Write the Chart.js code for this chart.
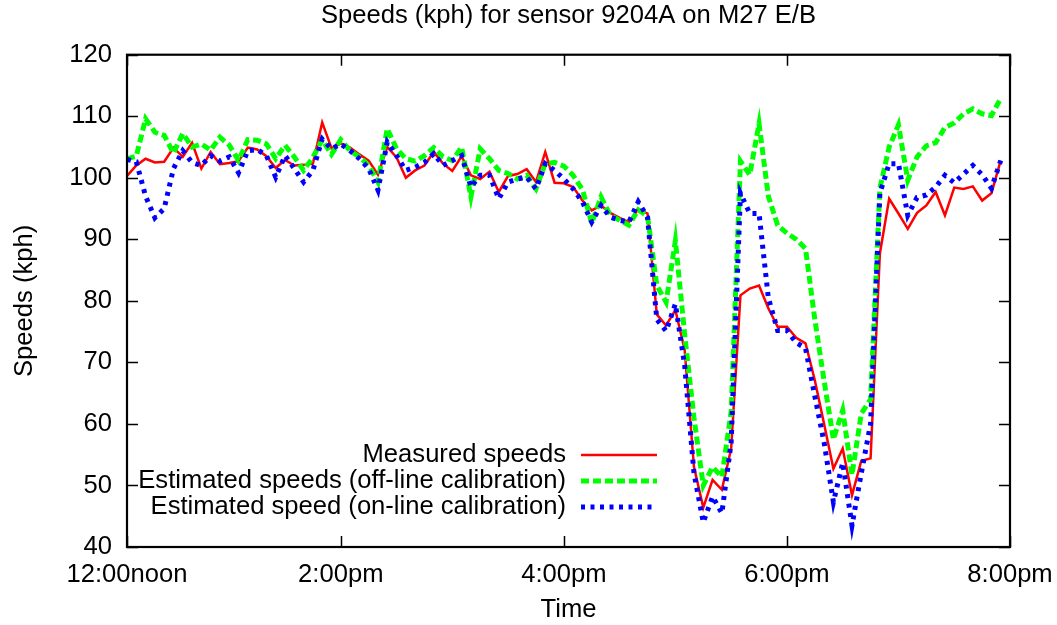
<!DOCTYPE html>
<html>
<head>
<meta charset="utf-8">
<script src="https://cdn.jsdelivr.net/npm/chart.js@4.4.0/dist/chart.umd.min.js"></script>
<style>
html,body{margin:0;padding:0;background:#fff;}
#wrap{width:1057px;height:625px;}
</style>
</head>
<body>
<div id="wrap"><canvas id="c" width="1057" height="625"></canvas></div>
<script>
// ---- data (5-minute samples, sample number 1..95) ----
const chartTitle = 'Speeds (kph) for sensor 9204A on M27 E/B';
const xTitle = 'Time';
const yTitle = 'Speeds (kph)';
const tickSamples = [1, 24, 48, 72, 96];
const tickLabels = ['12:00noon', '2:00pm', '4:00pm', '6:00pm', '8:00pm'];
const seriesNames = ['Measured speeds', 'Estimated speeds (off-line calibration)', 'Estimated speed (on-line calibration)'];

const measured = [
 100.3,102.0,103.1,102.5,102.6,104.9,103.4,105.7,101.5,104.2,
 102.2,102.4,102.7,104.9,104.6,103.5,101.6,102.9,102.0,102.1,
 102.3,109.0,104.8,105.6,104.9,103.8,102.8,100.5,105.0,103.3,
 100.0,101.2,102.0,104.2,102.3,101.1,103.5,100.4,99.8,101.0,
 97.7,100.3,100.6,101.4,99.3,104.2,99.2,99.1,98.5,96.3,
 94.7,95.5,94.3,93.5,92.8,94.9,94.2,77.8,76.0,78.5,
 72.0,53.0,46.4,50.9,49.3,56.0,80.9,82.0,82.5,78.8,
 75.8,75.8,74.0,73.1,67.1,60.0,52.7,56.0,48.4,54.0,
 54.4,87.7,96.6,94.2,91.7,94.3,95.5,97.7,93.9,98.4,
 98.2,98.6,96.3,97.5,102.8
];
const offlineEst = [
 103.1,103.5,109.6,107.4,106.9,104.0,107.2,105.0,105.5,104.5,
 106.6,105.3,102.8,106.2,106.1,105.5,103.1,105.3,103.4,101.2,
 103.3,106.2,103.8,106.2,104.4,103.4,102.0,99.3,108.0,104.7,
 103.1,102.7,103.6,104.9,103.4,102.8,105.0,96.9,104.7,103.1,
 101.2,100.7,99.8,100.4,98.2,102.3,102.5,101.9,100.4,98.1,
 92.6,96.9,93.9,93.1,92.3,94.8,93.8,82.5,79.8,89.8,
 74.5,61.0,50.0,53.0,51.4,62.0,102.7,100.5,108.8,97.0,
 92.3,91.0,90.0,88.5,77.0,67.0,57.5,62.2,51.7,61.7,
 64.0,98.3,105.0,108.6,99.6,103.4,105.2,105.7,108.2,108.9,
 110.4,111.2,110.4,110.1,112.9
];
const onlineEst = [
 103.0,102.6,97.0,93.5,95.0,101.5,104.4,102.5,102.0,103.6,
 102.7,103.4,100.8,104.4,104.6,103.6,100.1,103.6,101.5,99.3,
 101.2,106.3,104.7,105.5,104.4,103.1,101.5,98.0,105.8,103.6,
 101.2,101.7,102.5,103.9,102.0,102.8,103.6,98.5,100.4,100.4,
 96.6,99.3,99.8,100.1,98.2,102.3,101.2,99.8,98.2,96.1,
 92.8,95.5,93.6,93.1,92.8,96.1,93.6,77.0,75.1,79.5,
 69.5,52.0,44.0,48.2,45.5,57.0,97.5,94.2,94.2,80.5,
 75.2,75.2,73.2,72.3,64.5,57.0,47.3,53.7,43.5,52.0,
 60.0,97.5,102.3,102.3,93.9,96.8,97.2,98.5,100.4,99.2,
 100.6,102.0,100.5,98.3,102.8
];

const toPoints = arr => arr.map((v, i) => ({x: i + 1, y: v}));
const FONT = "'Liberation Sans', Arial, Helvetica, sans-serif";
const FS = 25.6;
Chart.defaults.font.family = FONT;
Chart.defaults.font.size = FS;
Chart.defaults.color = '#000';

const framePlugin = {
  id: 'frame',
  afterDraw(chart) {
    const {ctx, chartArea: a, scales} = chart;
    ctx.save();
    ctx.strokeStyle = '#000';
    ctx.lineWidth = 1.5;
    const tl = 11;
    ctx.beginPath();
    scales.y.ticks.forEach(t => {
      const py = Math.round(scales.y.getPixelForValue(t.value)) + 0.5;
      ctx.moveTo(a.left, py); ctx.lineTo(a.left + tl, py);
      ctx.moveTo(a.right, py); ctx.lineTo(a.right - tl, py);
    });
    scales.x.ticks.forEach(t => {
      const px = Math.round(scales.x.getPixelForValue(t.value)) + 0.5;
      ctx.moveTo(px, a.bottom); ctx.lineTo(px, a.bottom - tl);
      ctx.moveTo(px, a.top); ctx.lineTo(px, a.top + tl);
    });
    ctx.stroke();
    ctx.lineWidth = 2.2;
    ctx.strokeRect(a.left, a.top, a.right - a.left, a.bottom - a.top);
    ctx.restore();
  }
};

const keyPlugin = {
  id: 'key',
  afterDraw(chart) {
    const {ctx, chartArea: a} = chart;
    const textRight = a.left + 439;
    const x0 = a.left + 454, x1 = a.left + 530;
    const rows = [a.bottom - 92, a.bottom - 66, a.bottom - 40];
    ctx.save();
    chart.data.datasets.forEach((ds, i) => {
      const y = rows[i];
      ctx.font = FS + 'px ' + FONT;
      ctx.fillStyle = '#000';
      ctx.textAlign = 'right';
      ctx.textBaseline = 'middle';
      ctx.fillText(ds.label, textRight, y);
      ctx.strokeStyle = ds.borderColor;
      ctx.lineWidth = ds.borderWidth;
      ctx.setLineDash(ds.borderDash || []);
      ctx.beginPath();
      ctx.moveTo(x0, y); ctx.lineTo(x1, y);
      ctx.stroke();
    });
    ctx.restore();
  }
};

new Chart(document.getElementById('c'), {
  type: 'line',
  data: {
    datasets: [
      {label: seriesNames[0], data: toPoints(measured), borderColor: '#ff0000', borderWidth: 2.5, pointRadius: 0, tension: 0, fill: false, order: 2},
      {label: seriesNames[1], data: toPoints(offlineEst), borderColor: '#00ff00', borderWidth: 5, borderDash: [8, 4], pointRadius: 0, tension: 0, fill: false, order: 1},
      {label: seriesNames[2], data: toPoints(onlineEst), borderColor: '#0000ff', borderWidth: 5, borderDash: [4, 5.5], pointRadius: 0, tension: 0, fill: false, order: 0}
    ]
  },
  options: {
    responsive: false,
    animation: false,
    devicePixelRatio: 1,
    layout: {padding: {left: 0, right: 47, top: 0, bottom: 0}},
    plugins: {
      legend: {display: false},
      tooltip: {enabled: false},
      title: {display: true, text: chartTitle, fullSize: false, font: {size: FS, weight: 'normal'}, color: '#000', padding: {top: 1, bottom: 23}}
    },
    scales: {
      x: {
        type: 'linear', min: 1, max: 96,
        grid: {display: false, drawTicks: false},
        border: {display: false},
        afterBuildTicks: s => { s.ticks = tickSamples.map(v => ({value: v})); },
        ticks: {padding: 13, maxRotation: 0, autoSkip: false,
          callback: v => { const k = tickSamples.indexOf(v); return k >= 0 ? tickLabels[k] : ''; }},
        title: {display: true, text: xTitle, padding: {top: 0, bottom: 0}},
        afterFit: s => { s.height = 78; s.paddingLeft = 0; s.paddingRight = 0; }
      },
      y: {
        min: 40, max: 120,
        grid: {display: false, drawTicks: false},
        border: {display: false},
        ticks: {stepSize: 10, padding: 15},
        title: {display: true, text: yTitle, padding: {top: 10, bottom: 0}},
        afterFit: s => { s.width = 127; s.paddingTop = 0; s.paddingBottom = 0; }
      }
    }
  },
  plugins: [framePlugin, keyPlugin]
});
</script>
</body>
</html>
